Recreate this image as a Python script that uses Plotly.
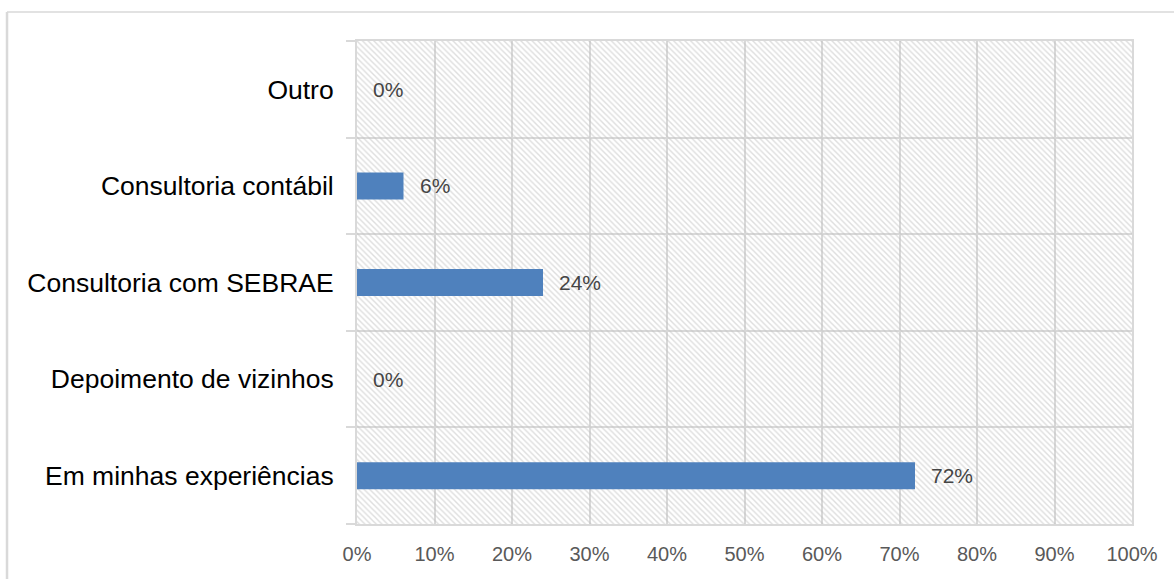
import plotly.graph_objects as go

categories = ["Em minhas experiências", "Depoimento de vizinhos", "Consultoria com SEBRAE",
              "Consultoria contábil", "Outro"]
values = [0.72, 0.00, 0.24, 0.06, 0.00]
labels = ["72%", "0%", "24%", "6%", "0%"]
x_ticks = [0, 0.1, 0.2, 0.3, 0.4, 0.5, 0.6, 0.7, 0.8, 0.9, 1.0]
x_tick_text = ["0%", "10%", "20%", "30%", "40%", "50%", "60%", "70%", "80%", "90%", "100%"]

GRID = "#d9d9d9"
BAR = "#4f81bd"

fig = go.Figure()

# hatched plot-area background
fig.add_trace(go.Bar(
    y=categories, x=[1.0] * len(categories), orientation="h", width=1.0,
    marker=dict(color="rgba(0,0,0,0)", line=dict(width=0),
                pattern=dict(shape="\\", fgcolor="#bdbdbd", bgcolor="rgba(0,0,0,0)",
                             size=4, solidity=0.35)),
    hoverinfo="skip", showlegend=False,
))

fig.add_trace(go.Bar(
    y=categories, x=values, orientation="h", width=0.28,
    marker=dict(color=BAR, line=dict(width=0)),
    showlegend=False,
))

for c, v, t in zip(categories, values, labels):
    fig.add_annotation(x=v, y=c, text=t, showarrow=False, xanchor="left", xshift=14,
                       font=dict(family="Liberation Sans, Arial", size=21, color="#454545"))

# outer chart frame (partially cropped)
fig.add_shape(type="line", xref="paper", yref="paper", x0=-0.4516, x1=1.2, y0=1.06, y1=1.06,
              line=dict(color=GRID, width=1.5))
fig.add_shape(type="line", xref="paper", yref="paper", x0=-0.4516, x1=-0.4516, y0=1.06, y1=-0.3,
              line=dict(color=GRID, width=2.5))

fig.update_layout(
    width=1174, height=579,
    margin=dict(l=357, r=42, t=41, b=55),
    paper_bgcolor="white", plot_bgcolor="white",
    barmode="overlay",
    font=dict(family="Liberation Sans, Arial"),
    xaxis=dict(range=[0, 1], tickvals=x_ticks, ticktext=x_tick_text,
               showgrid=True, gridcolor=GRID, gridwidth=2,
               zeroline=False, showline=True, mirror=True, linecolor=GRID, linewidth=2,
               ticks="outside", ticklen=11, tickcolor="rgba(0,0,0,0)",
               tickfont=dict(size=20, color="#595959"), fixedrange=True),
    yaxis=dict(categoryorder="array", categoryarray=categories, type="category",
               tickson="boundaries", ticks="outside", ticklen=9, tickcolor=GRID, tickwidth=2,
               ticklabelstandoff=16,
               showgrid=True, gridcolor=GRID, gridwidth=2,
               showline=True, mirror=True, linecolor=GRID, linewidth=2,
               tickfont=dict(size=26.5, color="#000000"), fixedrange=True),
)

fig.write_html("out.html")
